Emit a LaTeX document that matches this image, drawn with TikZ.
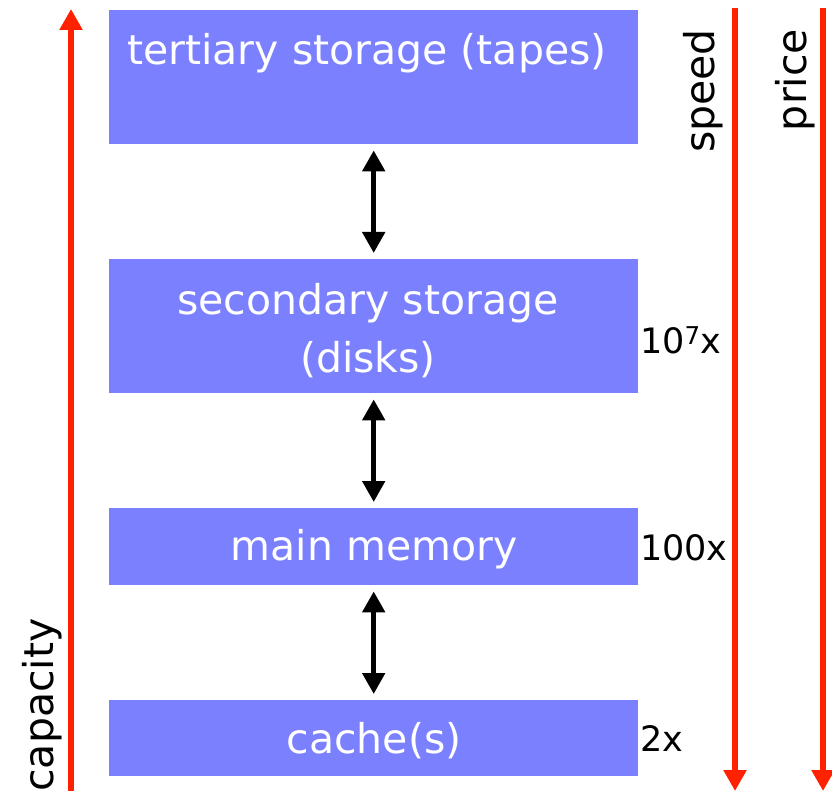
\documentclass[tikz,border=0pt]{standalone}
\usepackage{fontspec}
\setmainfont{DejaVu Sans}
\usetikzlibrary{arrows.meta}
\definecolor{boxblue}{RGB}{123,128,255}
\definecolor{scalered}{RGB}{255,34,0}
\begin{document}
\begin{tikzpicture}[x=1pt,y=-1pt,
  level/.style={fill=boxblue, draw=none, minimum width=529pt, inner sep=0pt, anchor=north west},
  boxtext/.style={text=white, font=\fontsize{41}{58}\selectfont, align=center},
  sidetext/.style={text=black, font=\fontsize{35}{40}\selectfont},
  scaletext/.style={text=black, font=\fontsize{41}{46}\selectfont, rotate=90, inner sep=0pt},
  linkarrow/.style={line width=5pt, {Triangle[width=22pt,length=21pt]}-{Triangle[width=22pt,length=21pt]}},
  scalearrow/.style={draw=scalered, line width=5.5pt, -{Triangle[width=22pt,length=21pt]}}]
\useasboundingbox (0,0) rectangle (832,791);

% storage levels
\node[level, minimum height=134pt] (tape) at (109,10) {};
\node[level, minimum height=134pt] (disk) at (109,259) {};
\node[level, minimum height=77pt] (mem) at (109,508) {};
\node[level, minimum height=76pt] (cache) at (109,700) {};

\node[boxtext] (tapetxt) at (367,53) {tertiary storage (tapes)};
\node[boxtext] (disktxt) at (368,331) {secondary storage\\(disks)};
\node[boxtext] (memtxt) at (374,549) {main memory};
\node[boxtext] (cachetxt) at (374,741) {cache(s)};

% transfers between levels
\draw[linkarrow] ([yshift=-6pt]tape.south) -- ([yshift=6pt]disk.north);
\draw[linkarrow] ([yshift=-6pt]disk.south) -- ([yshift=6pt]mem.north);
\draw[linkarrow] ([yshift=-6pt]mem.south) -- ([yshift=6pt]cache.north);

% ratio labels
\node[sidetext, anchor=west, inner sep=0pt] (r1) at (640,340) {10\textsuperscript{7}x};
\node[sidetext, anchor=west, inner sep=0pt] (r2) at (640,548) {100x};
\node[sidetext, anchor=west, inner sep=0pt] (r3) at (640,739) {2x};

% scales
\coordinate (capbot) at (71,795);
\coordinate (captop) at (71,9);
\coordinate (spdtop) at (735,8);
\coordinate (spdbot) at (735,791);
\coordinate (prctop) at (823,8);
\coordinate (prcbot) at (823,791);
\draw[scalearrow] (capbot) -- (captop);
\draw[scalearrow] (spdtop) -- (spdbot);
\draw[scalearrow] (prctop) -- (prcbot);

\node[scaletext] (speed) at (703,91) {speed};
\node[scaletext] (price) at (795,80) {price};
\node[scaletext] (capacity) at (42,705) {capacity};
\end{tikzpicture}
\end{document}
